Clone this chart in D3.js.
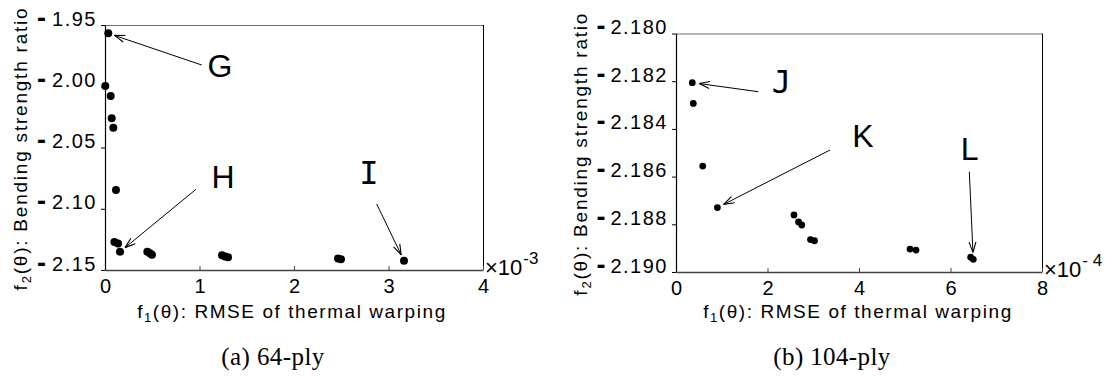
<!DOCTYPE html>
<html><head><meta charset="utf-8">
<script src="https://cdn.jsdelivr.net/npm/d3@7"></script>
<style>
html,body{margin:0;padding:0;background:#fff;}
svg{display:block;}
</style></head>
<body>
<svg id="chart" width="1106" height="377"></svg>
<script>
// ---------- DATA ----------
// (a) 64-ply : f1 in units of 1e-3, f2 values
const plyA_f1 = [0.035, 0.003, 0.060, 0.071, 0.088, 0.116, 0.100, 0.138, 0.159, 0.448, 0.476, 0.497, 1.238, 1.270, 1.302, 2.466, 2.497, 3.164];
const plyA_f2 = [-1.9568, -1.9998, -2.0080, -2.0262, -2.0338, -2.0847, -2.1271, -2.1284, -2.1351, -2.1351, -2.1364, -2.1375, -2.1380, -2.1390, -2.1396, -2.1406, -2.1413, -2.1424];
// (b) 104-ply : f1 in units of 1e-4, f2 values
const plyB_f1 = [0.356, 0.378, 0.584, 0.905, 2.579, 2.678, 2.748, 2.940, 3.027, 5.115, 5.246, 6.441, 6.498];
const plyB_f2 = [-2.18206, -2.18293, -2.18556, -2.18730, -2.18761, -2.18790, -2.18803, -2.18864, -2.18869, -2.18904, -2.18908, -2.18938, -2.18947];

const ticksA_x = [0, 1, 2, 3, 4];
const ticksA_y = [-1.95, -2.00, -2.05, -2.10, -2.15];
const ticksB_x = [0, 2, 4, 6, 8];
const ticksB_y = [-2.180, -2.182, -2.184, -2.186, -2.188, -2.190];
const expA = "-3";
const expB = "- 4";

const annotA = ["G", "H", "I"];
const annotA_idx = [0, 8, 17];
const annotB = ["J", "K", "L"];
const annotB_idx = [0, 3, 12];

const xLabel = ["f", "1", "(θ): RMSE of thermal warping"];
const yLabel = ["f", "2", "(θ): Bending strength ratio"];
const captions = ["(a) 64-ply", "(b) 104-ply"];

// ---------- LAYOUT ----------
const svg = d3.select("#chart");
const SANS = "'Liberation Sans', Arial, Helvetica, sans-serif";
const MONO = "'DejaVu Sans Mono', monospace";
const SERIF = "'Liberation Serif', 'Times New Roman', serif";

function fit(sel, target){
  const n = sel.text().length;
  const len = sel.node().getComputedTextLength();
  sel.attr("letter-spacing", ((target - len) / Math.max(1, n - 1)).toFixed(2));
}

function arrow(g, sx, sy, px, py, gap){
  const dx = sx - px, dy = sy - py, L = Math.hypot(dx, dy);
  const ex = px + dx / L * gap, ey = py + dy / L * gap;
  g.append("line").attr("x1", sx).attr("y1", sy).attr("x2", ex).attr("y2", ey)
    .attr("stroke", "#000").attr("stroke-width", 1);
  const a = Math.atan2(dy, dx), hl = 11, ha = 0.32;
  [a - ha, a + ha].forEach(t => {
    g.append("line").attr("x1", ex).attr("y1", ey)
      .attr("x2", ex + hl * Math.cos(t)).attr("y2", ey + hl * Math.sin(t))
      .attr("stroke", "#000").attr("stroke-width", 1.1);
  });
}

function panel(cfg){
  const g = svg.append("g");
  const x = d3.scaleLinear().domain(cfg.xd).range([cfg.x0, cfg.x1]);
  const y = d3.scaleLinear().domain(cfg.yd).range([cfg.y1, cfg.y0]);

  // frame: top and right
  g.append("line").attr("x1", cfg.x0).attr("x2", cfg.x1).attr("y1", cfg.y0 + 0.5).attr("y2", cfg.y0 + 0.5)
    .attr("stroke", "#6e6e6e").attr("stroke-width", 1.2);
  g.append("line").attr("x1", cfg.x1 + 0.5).attr("x2", cfg.x1 + 0.5).attr("y1", cfg.y0).attr("y2", cfg.y1)
    .attr("stroke", "#000").attr("stroke-width", 1);

  // x axis (ticks inward)
  const xa = g.append("g").attr("transform", `translate(0,${cfg.y1})`)
    .call(d3.axisBottom(x).tickValues(cfg.xt).tickSizeInner(-4).tickSizeOuter(0).tickPadding(10).tickFormat(d3.format("d")));
  xa.select(".domain").attr("stroke", "#444").attr("stroke-width", 1.3);
  xa.selectAll(".tick line").attr("stroke", "#444");
  xa.selectAll(".tick text").attr("font-family", SANS).attr("font-size", 20).attr("fill", "#000")
    .attr("y", 23).attr("dy", 0);

  // y axis (ticks outward)
  const ya = g.append("g").attr("transform", `translate(${cfg.x0},0)`)
    .call(d3.axisLeft(y).tickValues(cfg.yt).tickSize(4).tickSizeOuter(0).tickFormat(() => ""));
  ya.select(".domain").attr("stroke", "#000").attr("stroke-width", 1.2);
  ya.selectAll(".tick line").attr("stroke", "#000");
  ya.selectAll(".tick text").remove();
  const fmt = d3.format(cfg.yf);
  ya.selectAll(".tick").each(function(d){
    const t = d3.select(this).append("text").attr("x", -8).attr("y", 0).attr("dy", "0.36em")
      .attr("text-anchor", "end").attr("font-family", SANS).attr("font-size", 20).attr("fill", "#000");
    t.append("tspan").attr("font-weight", "900").attr("font-size", 27).attr("dy", 1).text("-");
    t.append("tspan").attr("dx", cfg.minusGap).attr("dy", -1).attr("letter-spacing", 1.5).text(fmt(Math.abs(d)));
  });

  // exponent
  const ex = g.append("text").attr("x", cfg.x1 + 2).attr("y", cfg.y1 + 5)
    .attr("font-family", SANS).attr("font-size", 22).attr("fill", "#000");
  ex.append("tspan").text("×10");
  ex.append("tspan").attr("font-size", 17).attr("dy", -11).attr("dx", 1).text(cfg.exp);

  // points
  g.selectAll("circle.pt").data(cfg.f1.map((v, i) => [v, cfg.f2[i]])).join("circle")
    .attr("class", "pt").attr("cx", d => x(d[0])).attr("cy", d => y(d[1])).attr("r", cfg.r).attr("fill", "#000");

  // annotations
  cfg.ann.forEach((lab, k) => {
    const i = cfg.annIdx[k];
    const px = x(cfg.f1[i]), py = y(cfg.f2[i]);
    const a = cfg.annPos[k];
    arrow(g, a.sx, a.sy, px, py, cfg.gap);
    g.append("text").attr("x", a.tx).attr("y", a.ty).attr("text-anchor", "middle")
      .attr("font-family", cfg.annFont[k] === "m" ? MONO : SANS).attr("font-size", 32).attr("fill", "#000").text(lab);
  });

  // x label
  const xl = g.append("text").attr("x", cfg.xlx).attr("y", 318).attr("text-anchor", "middle")
    .attr("font-family", SANS).attr("font-size", 19).attr("fill", "#000");
  xl.append("tspan").text(xLabel[0]);
  xl.append("tspan").attr("font-size", 13).attr("dy", 4).text(xLabel[1]);
  xl.append("tspan").attr("dy", -4).text(xLabel[2]);
  fit(xl, 308);

  // y label
  const yl = g.append("text").attr("transform", `translate(${cfg.ylx},${(cfg.y0 + cfg.y1) / 2 + 1}) rotate(-90)`)
    .attr("text-anchor", "middle").attr("font-family", SANS).attr("font-size", 19).attr("fill", "#000");
  yl.append("tspan").text(yLabel[0]);
  yl.append("tspan").attr("font-size", 13).attr("dy", 4).text(yLabel[1]);
  yl.append("tspan").attr("dy", -4).text(yLabel[2]);
  fit(yl, 282);

  // caption
  const cp = g.append("text").attr("x", cfg.capx).attr("y", 365).attr("text-anchor", "middle")
    .attr("font-family", SERIF).attr("font-size", 25).attr("fill", "#000").text(cfg.cap);
  fit(cp, cfg.capW);
}

panel({
  x0: 105, x1: 483, y0: 25, y1: 270,
  xd: [0, 4], yd: [-2.15, -1.95], xt: ticksA_x, yt: ticksA_y, yf: ".2f", minusGap: 6,
  f1: plyA_f1, f2: plyA_f2, r: 4, gap: 6.5, exp: expA,
  ann: annotA, annIdx: annotA_idx, annFont: ["s", "s", "m"],
  annPos: [{sx: 201.7, sy: 65, tx: 220, ty: 77}, {sx: 196, sy: 189.3, tx: 223, ty: 188}, {sx: 376.7, sy: 204, tx: 369, ty: 184}],
  xlx: 292, ylx: 27, capx: 273, capW: 103, cap: captions[0]
});

panel({
  x0: 676, x1: 1042, y0: 33.5, y1: 272,
  xd: [0, 8], yd: [-2.190, -2.180], xt: ticksB_x, yt: ticksB_y, yf: ".3f", minusGap: 5,
  f1: plyB_f1, f2: plyB_f2, r: 3.4, gap: 7, exp: expB,
  ann: annotB, annIdx: annotB_idx, annFont: ["m", "s", "s"],
  annPos: [{sx: 758.3, sy: 91.7, tx: 781.5, ty: 93}, {sx: 830, sy: 150, tx: 863, ty: 147}, {sx: 969.3, sy: 171.7, tx: 969.7, ty: 160}],
  xlx: 858, ylx: 587, capx: 832, capW: 117, cap: captions[1]
});
</script>
</body></html>
